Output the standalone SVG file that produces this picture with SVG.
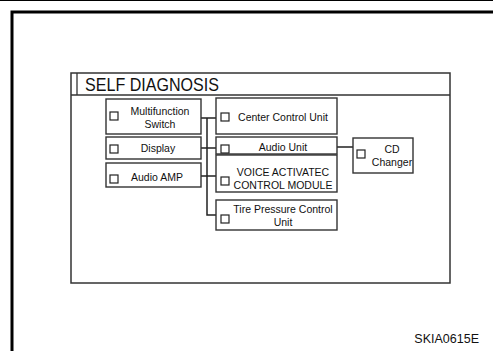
<svg xmlns="http://www.w3.org/2000/svg" width="493" height="351" viewBox="0 0 493 351">
<style>
.box{fill:#fff;stroke:#333;stroke-width:1.4}
.chk{fill:#fff;stroke:#222;stroke-width:1.2}
.lbl{font-family:"Liberation Sans",Arial,sans-serif;font-size:10.5px;fill:#111;text-anchor:middle}
.ln{fill:none;stroke:#222;stroke-width:1.5}
</style>
<rect width="493" height="351" fill="#fff"/>
<line x1="0" y1="0.5" x2="493" y2="0.5" stroke="#000" stroke-width="1"/>
<path d="M12 351 V12 H493" fill="none" stroke="#000" stroke-width="3"/>
<g id="panel">
<rect x="71" y="73" width="379" height="210" fill="#fff" stroke="#333" stroke-width="1.5"/>
<line x1="71" y1="95" x2="450" y2="95" stroke="#333" stroke-width="1.5"/>
<line x1="77" y1="73" x2="77" y2="95" stroke="#333" stroke-width="1.3"/>
<text x="85" y="91" font-family="'Liberation Sans',Arial,sans-serif" font-size="19" textLength="134" lengthAdjust="spacingAndGlyphs" fill="#111">SELF DIAGNOSIS</text>
</g>
<g id="connectors">
<path class="ln" d="M201 118 H216 M201 148 H216 M201 176 H216 M207 118 V215 H216 M337 147 H353"/>
</g>
<g id="multifunction">
<rect class="box" x="106" y="99" width="95" height="35"/>
<rect class="chk" x="110" y="112" width="8" height="8"/>
<text class="lbl" x="160" y="115">Multifunction</text>
<text class="lbl" x="160" y="128">Switch</text>
</g>
<g id="display">
<rect class="box" x="106" y="137" width="95" height="22"/>
<rect class="chk" x="110" y="145" width="8" height="8"/>
<text class="lbl" x="158" y="152">Display</text>
</g>
<g id="audioamp">
<rect class="box" x="106" y="163" width="95" height="24"/>
<rect class="chk" x="110" y="175" width="8" height="8"/>
<text class="lbl" x="157" y="181">Audio AMP</text>
</g>
<g id="center">
<rect class="box" x="216" y="98" width="121" height="36"/>
<rect class="chk" x="221" y="113" width="8" height="8"/>
<text class="lbl" x="283" y="121">Center Control Unit</text>
</g>
<g id="audiounit">
<rect class="box" x="216" y="137" width="121" height="17"/>
<rect class="chk" x="221" y="145" width="8" height="8"/>
<text class="lbl" x="283" y="151">Audio Unit</text>
</g>
<g id="voice">
<rect class="box" x="216" y="155" width="121" height="37"/>
<rect class="chk" x="221" y="177" width="8" height="8"/>
<text class="lbl" x="283" y="176">VOICE ACTIVATEC</text>
<text class="lbl" x="283" y="189">CONTROL MODULE</text>
</g>
<g id="tire">
<rect class="box" x="216" y="200" width="121" height="30"/>
<rect class="chk" x="221" y="215" width="8" height="8"/>
<text class="lbl" x="283" y="213">Tire Pressure Control</text>
<text class="lbl" x="283" y="226">Unit</text>
</g>
<g id="cdchanger">
<rect class="box" x="353" y="138" width="60" height="35"/>
<rect class="chk" x="357" y="150" width="8" height="8"/>
<text class="lbl" x="392" y="153">CD</text>
<text class="lbl" x="392" y="166">Changer</text>
</g>
<text x="479" y="343" font-family="'Liberation Sans',Arial,sans-serif" font-size="12.5" text-anchor="end" fill="#111">SKIA0615E</text>
</svg>
